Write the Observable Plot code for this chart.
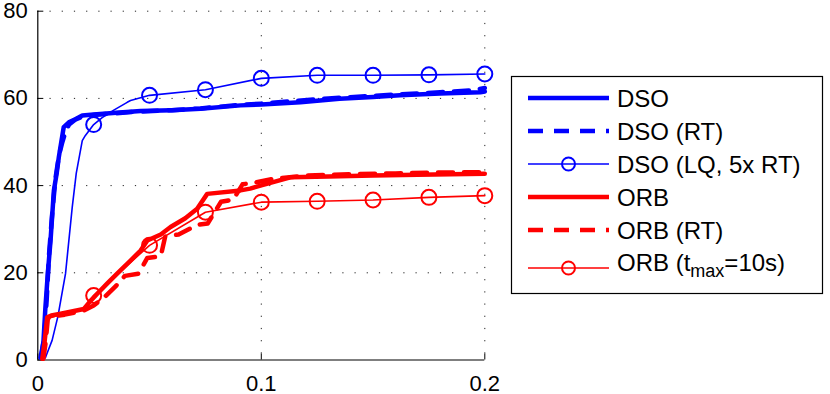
<!DOCTYPE html>
<html>
<head>
<meta charset="utf-8">
<script src="https://cdn.jsdelivr.net/npm/d3@7"></script>
<script src="https://cdn.jsdelivr.net/npm/@observablehq/plot@0.6"></script>
<style>
  html, body { margin: 0; padding: 0; background: #fff; }
  #chart { width: 830px; height: 394px; position: relative; }
</style>
</head>
<body>
<div id="chart"></div>
<script>
// ---- data ----
const xTicks = [0, 0.1, 0.2];
const yTicks = [0, 20, 40, 60, 80];
const yGrid = [20, 40, 60, 80];
const xGrid = [0.1, 0.2];

const dsoX = [0.0012,0.0025,0.0034,0.0045,0.0057,0.0072,0.0085,0.0094,0.0105,0.0116,0.0139,0.0170,0.0199,0.025,0.035,0.046,0.06,0.0728,0.0907,0.1,0.1175,0.135,0.15,0.162,0.18,0.198,0.2];
const dsoY = [0.5,4,12,20,27.4,38.9,43,46.5,50,53.4,54.5,55.3,56.1,56.3,56.7,57.1,57.3,57.6,58.4,58.6,59.1,59.9,60.3,60.7,61.1,61.4,61.6];

const dsoRtX = [0.0015,0.003,0.004,0.005,0.0065,0.008,0.0095,0.011,0.0125,0.014,0.017,0.02,0.025,0.035,0.046,0.06,0.0728,0.09,0.1,0.115,0.13,0.15,0.165,0.18,0.195,0.2];
const dsoRtY = [0.5,6,14,24,34,42,47,50,52.5,54,55.2,55.8,56.2,56.6,57.0,57.3,57.7,58.5,58.8,59.4,60.0,60.6,61.0,61.4,61.9,62.4];

const dsoLqX = [0.0034,0.0045,0.0064,0.009,0.0124,0.0154,0.0172,0.0199,0.0213,0.025,0.0288,0.034,0.04,0.0415,0.05,0.075,0.1,0.125,0.15,0.175,0.2];
const dsoLqY = [0.5,2,4.5,10,19.8,35,42.8,50.3,51.5,54,55.6,57.3,59.1,59.5,60.7,62.0,64.6,65.3,65.3,65.4,65.6];
const dsoLqMarkX = [0.025,0.05,0.075,0.1,0.125,0.15,0.175,0.2];
const dsoLqMarkY = [54,60.7,62.0,64.6,65.3,65.3,65.4,65.6];

const orbX = [0.002,0.003,0.0042,0.006,0.0102,0.0206,0.0235,0.0266,0.031,0.0355,0.0415,0.046,0.049,0.055,0.0594,0.066,0.0713,0.0758,0.0907,0.095,0.0996,0.113,0.13,0.15,0.17,0.2];
const orbY = [0.3,4,9.8,10.2,10.6,11.7,13.5,15.2,17.5,19.8,22.8,25.1,27.4,28.8,30.5,32.5,34.7,38.1,38.9,39.3,40,41.9,42.1,42.3,42.5,42.7];

const orbRtX = [0.0025,0.0035,0.0045,0.007,0.012,0.02,0.025,0.03,0.035,0.039,0.045,0.049,0.055,0.057,0.063,0.0715,0.076,0.082,0.0875,0.0916,0.0974,0.105,0.12,0.14,0.16,0.18,0.2];
const orbRtY = [0.3,4,9.5,10,10.4,11.2,12.5,14.5,17,19.3,19.8,23.4,23.8,28.3,28.8,31,31.3,36.3,36.8,40.3,40.7,41.5,42.3,42.6,42.8,43,43.1];

const orbTmX = [0.002,0.0035,0.0045,0.01,0.02,0.022,0.025,0.05,0.075,0.1,0.125,0.15,0.175,0.2];
const orbTmY = [0.3,5,9.5,10.4,11.5,12.5,14.8,26.3,33.9,36.2,36.4,36.7,37.3,37.7];
const orbTmMarkX = [0.025,0.05,0.075,0.1,0.125,0.15,0.175,0.2];
const orbTmMarkY = [14.8,26.3,33.9,36.2,36.4,36.7,37.3,37.7];

const legendLabels = ["DSO", "DSO (RT)", "DSO (LQ, 5x RT)", "ORB", "ORB (RT)", "ORB (t_max=10s)"];

// ---- helpers ----
const zip = (xs, ys) => xs.map((x, i) => ({x, y: ys[i]}));
const BLUE = "#0000ff", RED = "#ff0000";
const THICK = 4.5, THIN = 1.6, DASH = "15,11", R = 7.5;
const FONT = "'Liberation Sans', Arial, sans-serif";

const chart = Plot.plot({
  width: 830, height: 394,
  marginLeft: 37.3, marginRight: 345.7, marginTop: 10.7, marginBottom: 34.5,
  x: {domain: [0, 0.2]},
  y: {domain: [0, 80]},
  style: {fontFamily: FONT, fontSize: "22px", background: "#fff", color: "#000", overflow: "visible"},
  marks: [
    Plot.ruleY(yGrid, {stroke: "#222", strokeWidth: 1, strokeDasharray: "1.2,11"}),
    Plot.ruleX(xGrid, {stroke: "#222", strokeWidth: 1, strokeDasharray: "1.2,11"}),
    Plot.axisX(xTicks, {tickSize: -6, tickPadding: 21, tickFormat: d => String(d), fontSize: 22, label: null, stroke: "#000"}),
    Plot.axisY(yTicks, {tickSize: -6, tickPadding: 16, tickFormat: d => String(d), fontSize: 22, label: null, stroke: "#000"}),
    Plot.ruleX([0], {stroke: "#000", strokeWidth: 1.2}),
    Plot.ruleY([0], {stroke: "#000", strokeWidth: 1.2}),
    Plot.line(zip(dsoX, dsoY), {x: "x", y: "y", stroke: BLUE, strokeWidth: THICK, strokeLinejoin: "round"}),
    Plot.line(zip(dsoRtX, dsoRtY), {x: "x", y: "y", stroke: BLUE, strokeWidth: THICK, strokeDasharray: DASH}),
    Plot.line(zip(dsoLqX, dsoLqY), {x: "x", y: "y", stroke: BLUE, strokeWidth: THIN}),
    Plot.dot(zip(dsoLqMarkX, dsoLqMarkY), {x: "x", y: "y", r: R, stroke: BLUE, strokeWidth: 2, fill: "none"}),
    Plot.line(zip(orbX, orbY), {x: "x", y: "y", stroke: RED, strokeWidth: THICK, strokeLinejoin: "round"}),
    Plot.line(zip(orbRtX, orbRtY), {x: "x", y: "y", stroke: RED, strokeWidth: THICK, strokeDasharray: DASH}),
    Plot.line(zip(orbTmX, orbTmY), {x: "x", y: "y", stroke: RED, strokeWidth: THIN}),
    Plot.dot(zip(orbTmMarkX, orbTmMarkY), {x: "x", y: "y", r: R, stroke: RED, strokeWidth: 2, fill: "none"})
  ]
});

document.getElementById("chart").appendChild(chart);

// ---- legend (drawn into the same svg) ----
const svg = d3.select(chart);
const lg = svg.append("g").attr("font-family", FONT).attr("font-size", 24).attr("text-anchor", "start");
lg.append("rect").attr("x", 511.5).attr("y", 76.5).attr("width", 311).attr("height", 217)
  .attr("fill", "#fff").attr("stroke", "#000").attr("stroke-width", 1.2);
const styles = [
  {c: BLUE, w: THICK, dash: null, mark: false},
  {c: BLUE, w: THICK, dash: DASH, mark: false},
  {c: BLUE, w: THIN, dash: null, mark: true},
  {c: RED, w: THICK, dash: null, mark: false},
  {c: RED, w: THICK, dash: DASH, mark: false},
  {c: RED, w: THIN, dash: null, mark: true}
];
const rowY = [98, 131, 164, 197, 230, 268];
legendLabels.forEach((lab, i) => {
  const s = styles[i], y = rowY[i];
  const ln = lg.append("line").attr("x1", 528).attr("x2", 609).attr("y1", y).attr("y2", y)
    .attr("stroke", s.c).attr("stroke-width", s.w);
  if (s.dash) ln.attr("stroke-dasharray", s.dash);
  if (s.mark) lg.append("circle").attr("cx", 568.5).attr("cy", y).attr("r", 6.5)
    .attr("fill", "none").attr("stroke", s.c).attr("stroke-width", 2);
  const t = lg.append("text").attr("x", 617).attr("y", i === 5 ? 270.5 : y + 8.5);
  if (lab.includes("t_max")) {
    t.append("tspan").text("ORB (t");
    t.append("tspan").attr("font-size", 18).attr("dy", 6.5).text("max");
    t.append("tspan").attr("dy", -6.5).text("=10s)");
  } else {
    t.text(lab);
  }
});
</script>
</body>
</html>
